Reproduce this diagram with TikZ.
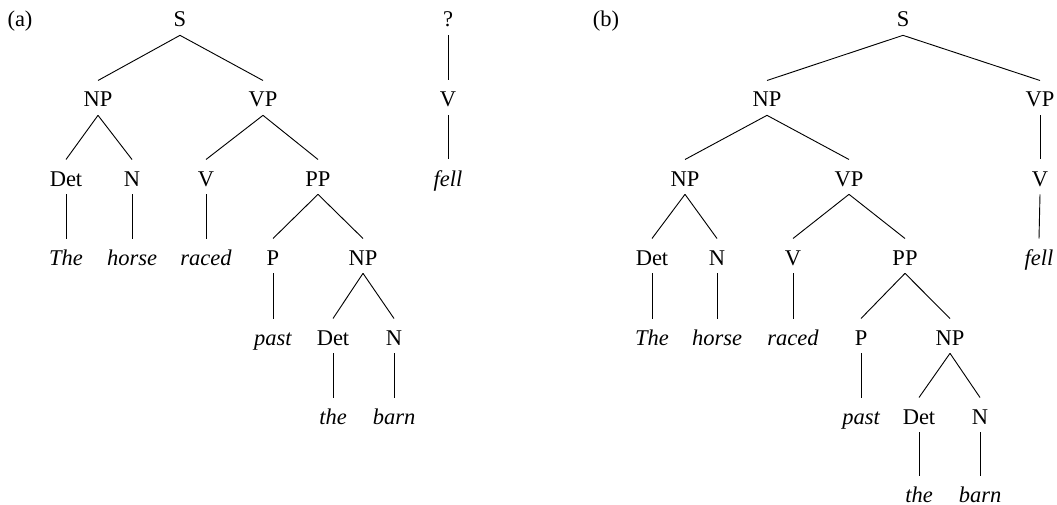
\documentclass[tikz,border=0pt]{standalone}
\usepackage{fontspec}
\setmainfont{Liberation Serif}

\begin{document}
\begin{tikzpicture}[x=0.6pt,y=-0.6pt,
  cat/.style={anchor=base, inner xsep=1pt, inner ysep=4.8pt, text height=10.9pt, text depth=0pt, font=\fontsize{13.5}{16}\selectfont},
  word/.style={cat, font=\fontsize{13.5}{16}\selectfont\itshape},
  branch/.style={line width=0.55pt}]
  \useasboundingbox (0,0) rectangle (1057,505);

  % Tree (a)
  \node[cat] (aLabel) at (20,27) {(a)};
  \node[cat] (aS) at (180,27) {S};
  \node[cat] (aNP) at (98,107) {NP};
  \node[cat] (aVP) at (263,107) {VP};
  \node[cat] (aDet) at (66,186) {Det};
  \node[cat] (aN) at (132,186) {N};
  \node[cat] (aV) at (206,186) {V};
  \node[cat] (aPP) at (318,186) {PP};
  \node[word] (aThe) at (66,265) {The};
  \node[word] (aHorse) at (132,265) {horse};
  \node[word] (aRaced) at (206,265) {raced};
  \node[cat] (aP) at (273,265) {P};
  \node[cat] (aNPb) at (363,265) {NP};
  \node[word] (aPast) at (273,345) {past};
  \node[cat] (aDetb) at (333,345) {Det};
  \node[cat] (aNb) at (394,345) {N};
  \node[word] (aTheb) at (333,424) {the};
  \node[word] (aBarn) at (394,424) {barn};

  % dangling verb
  \node[cat] (aQ) at (448,27) {?};
  \node[cat] (aVb) at (448,107) {V};
  \node[word] (aFell) at (448,186) {fell};

  \foreach \p/\c in {aS/aNP, aS/aVP, aNP/aDet, aNP/aN, aVP/aV, aVP/aPP,
      aDet/aThe, aN/aHorse, aV/aRaced, aPP/aP, aPP/aNPb, aP/aPast,
      aNPb/aDetb, aNPb/aNb, aDetb/aTheb, aNb/aBarn, aQ/aVb, aVb/aFell}
    \draw[branch] (\p.south) -- (\c.north);

  % Tree (b)
  \node[cat] (bLabel) at (606,27) {(b)};
  \node[cat] (bS) at (903,27) {S};
  \node[cat] (bNP) at (767,107) {NP};
  \node[cat] (bVP) at (1040,107) {VP};
  \node[cat] (bNPa) at (685,186) {NP};
  \node[cat] (bVPa) at (849,186) {VP};
  \node[cat] (bVb) at (1040,186) {V};
  \node[cat] (bDet) at (652,265) {Det};
  \node[cat] (bN) at (717,265) {N};
  \node[cat] (bV) at (793,265) {V};
  \node[cat] (bPP) at (905,265) {PP};
  \node[word] (bFell) at (1039,265) {fell};
  \node[word] (bThe) at (652,345) {The};
  \node[word] (bHorse) at (717,345) {horse};
  \node[word] (bRaced) at (793,345) {raced};
  \node[cat] (bP) at (861,345) {P};
  \node[cat] (bNPb) at (950,345) {NP};
  \node[word] (bPast) at (861,424) {past};
  \node[cat] (bDetb) at (919,424) {Det};
  \node[cat] (bNb) at (980,424) {N};
  \node[word] (bTheb) at (919,502) {the};
  \node[word] (bBarn) at (980,502) {barn};

  \foreach \p/\c in {bS/bNP, bS/bVP, bNP/bNPa, bNP/bVPa, bVP/bVb, bVb/bFell,
      bNPa/bDet, bNPa/bN, bVPa/bV, bVPa/bPP, bDet/bThe, bN/bHorse,
      bV/bRaced, bPP/bP, bPP/bNPb, bP/bPast, bNPb/bDetb, bNPb/bNb,
      bDetb/bTheb, bNb/bBarn}
    \draw[branch] (\p.south) -- (\c.north);
\end{tikzpicture}
\end{document}
